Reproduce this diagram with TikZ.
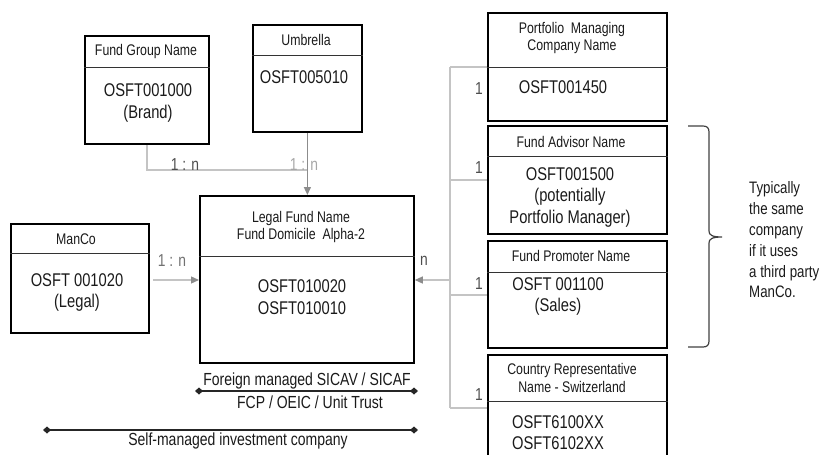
\documentclass[tikz,border=0pt]{standalone}
\usepackage{fontspec}
\setmainfont{Liberation Sans}[FakeStretch=0.8]
\usetikzlibrary{arrows.meta,calc}
\definecolor{txt}{HTML}{1A1A1A}
\definecolor{lbl}{HTML}{4D4D4D}
\definecolor{lgray}{HTML}{C4C4C4}
\definecolor{mgray}{HTML}{8C8C8C}
\definecolor{ltxt}{HTML}{A6A6A6}
\begin{document}
\begin{tikzpicture}[x=1pt,y=-1pt,
  box/.style={draw=black, line width=1.8pt, anchor=north west, inner sep=0pt},
  hdr/.style={font=\fontsize{15.4}{17.5}\selectfont, text=txt, align=center, inner sep=0pt},
  body/.style={font=\fontsize{18.4}{21.5}\selectfont, text=txt, align=center, inner sep=0pt},
  lab/.style={font=\fontsize{17.3}{19}\selectfont, text=lbl, inner sep=0pt},
  conn/.style={draw=lgray, line width=1.3pt},
  arr/.style={conn, -{Triangle[length=8pt,width=7pt,color=mgray]}},
  divline/.style={draw=black!80, line width=0.9pt},
  spanline/.style={draw=black!85, line width=1.1pt, {Diamond[length=8pt,width=7pt]}-{Diamond[length=8pt,width=7pt]}},
  note/.style={font=\fontsize{17.5}{21}\selectfont, text=txt, inner sep=0pt, align=center}
]
\useasboundingbox (0,0) rectangle (823,455);

% boxes
\node[box, minimum width=124pt, minimum height=108pt] (fg) at (84,35) {};
\node[box, minimum width=109pt, minimum height=107pt] (umb) at (252,24) {};
\node[box, minimum width=214pt, minimum height=167pt] (legal) at (199,195) {};
\node[box, minimum width=138pt, minimum height=109pt] (manco) at (10,223) {};
\node[box, minimum width=179pt, minimum height=108pt] (pm) at (487,12) {};
\node[box, minimum width=179pt, minimum height=108pt] (fa) at (487,125) {};
\node[box, minimum width=179pt, minimum height=107pt] (fp) at (487,240) {};
\node[box, minimum width=179pt, minimum height=116pt] (cr) at (487,354) {};

% dividers
\draw[divline] (fg.west |- 0,67) -- (fg.east |- 0,67);
\draw[divline] (umb.west |- 0,55) -- (umb.east |- 0,55);
\draw[divline] (legal.west |- 0,256) -- (legal.east |- 0,256);
\draw[divline] (manco.west |- 0,253) -- (manco.east |- 0,253);
\draw[divline] (pm.west |- 0,67) -- (pm.east |- 0,67);
\draw[divline] (fa.west |- 0,156) -- (fa.east |- 0,156);
\draw[divline] (fp.west |- 0,272) -- (fp.east |- 0,272);
\draw[divline] (cr.west |- 0,401) -- (cr.east |- 0,401);

% texts
\node[hdr] (fgh) at (146,52) {Fund Group Name};
\node[body] (fgb) at (148,103) {OSFT001000\\(Brand)};
\node[hdr] (umbh) at (306,40) {Umbrella};
\node[body] (umbb) at (304,77) {OSFT005010};
\node[hdr] (legalh) at (301,227) {Legal Fund Name\\Fund Domicile\ \ Alpha-2};
\node[body] (legalb) at (302,297) {OSFT010020\\OSFT010010};
\node[hdr] (mancoh) at (76,239) {ManCo};
\node[body] (mancob) at (77,292.5) {OSFT 001020\\(Legal)};
\node[hdr] (pmh) at (572,38) {Portfolio\ \ Managing\\Company Name};
\node[body] (pmb) at (563,87) {OSFT001450};
\node[hdr] (fah) at (571,142) {Fund Advisor Name};
\node[body] (fab) at (570,197) {OSFT001500\\(potentially\\Portfolio Manager)};
\node[hdr] (fph) at (571,256) {Fund Promoter Name};
\node[body] (fpb) at (558,296.5) {OSFT 001100\\(Sales)};
\node[hdr] (crh) at (572,378) {Country Representative\\Name - Switzerland};
\node[body] (crb) at (558,432.5) {OSFT6100XX\\OSFT6102XX};

% top connectors
\coordinate (join) at (307,170);
\draw[conn] (fg.south) |- (join);
\draw[arr, draw=mgray] (umb.south) -- (umb.south |- legal.north);
\node[lab] (l1) at (185,165) {1 : n};
\node[lab, text=ltxt] (l2) at (304,165) {1 : n};

% ManCo connector
\coordinate (mout) at (153,280);
\draw[arr] (mout) -- (mout -| legal.west);
\node[lab, text=lbl!80] (l3) at (172,261) {1 : n};

% right bus
\coordinate (busTop) at (450,67);
\coordinate (busA) at (450,180);
\coordinate (busIn) at (450,280);
\coordinate (busB) at (450,295);
\coordinate (busBot) at (450,408);
\draw[conn] (busTop) -- (busBot);
\draw[conn] (busTop) -- (busTop -| pm.west);
\draw[conn] (busA) -- (busA -| fa.west);
\draw[conn] (busB) -- (busB -| fp.west);
\draw[conn] (busBot) -- (busBot -| cr.west);
\draw[arr] (busIn) -- (busIn -| legal.east);
\node[lab] (ln) at (424,261) {n};
\node[lab] (o1) at (479,89) {1};
\node[lab] (o2) at (479,168) {1};
\node[lab] (o3) at (479,284) {1};
\node[lab] (o4) at (479,395) {1};

% brace
\draw[draw=black!75, line width=1.2pt]
  (688,126) -- (703,126) .. controls (707,126) and (709,128) .. (709,132)
  -- (709,231) .. controls (709,235) and (712,237) .. (722,237)
  .. controls (712,237) and (709,239) .. (709,243)
  -- (709,341) .. controls (709,345) and (707,347) .. (703,347) -- (688,347);
\node[font=\fontsize{16.6}{20.8}\selectfont, text=txt, align=left, inner sep=0pt, anchor=west] (typ) at (749,240)
  {Typically\\the same\\company\\if it uses\\a third party\\ManCo.};

% span lines
\coordinate (s1a) at (195,391);
\coordinate (s1b) at (418,391);
\coordinate (s2a) at (43,430);
\coordinate (s2b) at (418,430);
\draw[spanline] (s1a) -- (s1b);
\draw[spanline] (s2a) -- (s2b);
\node[note] (fm) at (307,381) {Foreign managed SICAV / SICAF};
\node[note] (fcp) at (310,402) {FCP / OEIC / Unit Trust};
\node[note] (self) at (238,441) {Self-managed investment company};
\end{tikzpicture}
\end{document}
